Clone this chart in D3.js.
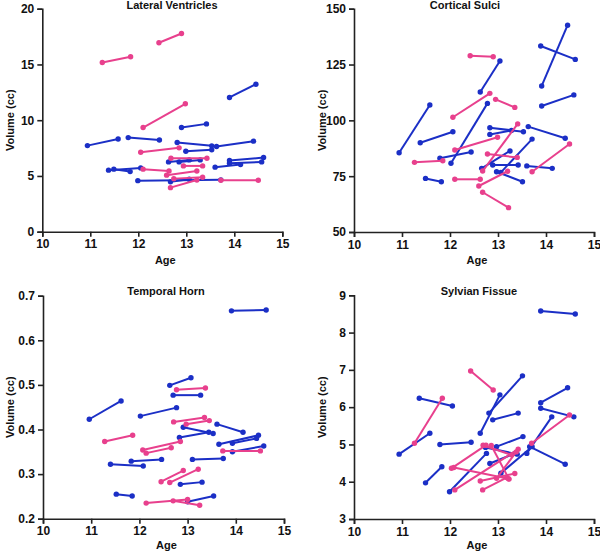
<!DOCTYPE html>
<html><head><meta charset="utf-8">
<script src="https://cdn.jsdelivr.net/npm/d3@7"></script>
<style>
body{margin:0;background:#fff}
svg{display:block}
text{font-family:Arial,"Liberation Sans",sans-serif;font-weight:bold;fill:#111}
</style>
</head><body>
<svg id="c" width="600" height="554"></svg>
<script>
// ---- data: each segment is [age1, volume1, age2, volume2] ----
const ageTicks = [10, 11, 12, 13, 14, 15];

const lvTicks = [0, 5, 10, 15, 20];
const lvBlue = [
  [13.90,12.04,14.45,13.23],[12.90,9.34,13.42,9.67],[10.94,7.72,11.58,8.32],[11.79,8.44,12.44,8.23],
  [12.81,8.00,13.53,7.70],[13.63,7.64,14.40,8.12],[12.99,7.22,13.53,7.34],[12.63,6.26,13.06,6.44],
  [12.85,6.26,13.29,6.44],[13.90,6.38,14.61,6.65],[13.90,6.14,14.57,6.26],[13.60,5.79,14.13,6.02],
  [11.38,5.52,12.05,5.72],[11.49,5.61,11.83,5.39],[11.99,4.58,13.72,4.65],[12.67,4.47,13.06,4.71]
];
const lvPink = [
  [11.25,15.18,11.84,15.69],[12.43,16.95,12.90,17.78],[12.10,9.34,12.98,11.47],[12.05,7.13,12.85,7.52],
  [12.68,6.59,13.43,6.59],[12.94,5.90,13.34,5.90],[12.10,5.61,12.64,5.45],[12.59,5.07,13.22,5.45],
  [12.74,4.76,13.34,4.89],[13.72,4.62,14.50,4.62],[12.67,3.95,13.22,4.64]
];

const csTicks = [50, 75, 100, 125, 150];
const csBlue = [
  [12.63,112.7,13.04,126.6],[13.89,133.3,14.61,127.3],[13.91,115.4,14.45,142.6],[13.91,106.4,14.58,111.4],
  [10.94,85.5,11.58,106.9],[11.38,90.0,12.06,94.9],[12.02,80.8,12.78,107.6],[12.83,96.7,13.53,94.9],
  [12.83,93.7,13.28,95.5],[13.63,97.2,14.40,92.0],[11.79,83.0,12.44,85.8],[12.66,78.5,13.25,86.3],
  [12.89,80.0,13.42,80.0],[13.60,79.6,14.13,78.5],[12.97,77.0,13.51,72.5],[13.06,76.7,13.71,91.6],
  [11.49,74.0,11.82,72.5]
];
const csPink = [
  [12.42,128.9,12.90,128.5],[12.06,101.4,12.83,112.1],[12.95,109.4,13.35,105.8],[12.10,86.7,12.99,92.4],
  [11.26,81.2,11.85,81.9],[12.68,77.3,13.41,98.4],[12.78,84.9,13.40,83.4],[13.71,77.0,14.49,89.4],
  [12.10,73.6,12.63,73.6],[12.60,70.6,13.20,77.2],[12.68,67.8,13.22,60.9]
];

const thTicks = [0.2, 0.3, 0.4, 0.5, 0.6, 0.7];
const thBlue = [
  [13.91,0.666,14.63,0.668],[12.63,0.499,13.07,0.516],[12.70,0.477,13.27,0.477],[10.96,0.423,11.62,0.464],
  [12.02,0.430,12.77,0.449],[12.91,0.405,13.53,0.391],[12.83,0.382,13.44,0.394],[13.61,0.412,14.15,0.394],
  [13.65,0.367,14.47,0.387],[13.93,0.369,14.43,0.380],[13.93,0.350,14.58,0.363],[11.83,0.329,12.46,0.333],
  [11.40,0.322,12.08,0.318],[13.10,0.333,13.74,0.335],[12.85,0.277,13.30,0.282],[11.52,0.255,11.85,0.251],
  [13.00,0.238,13.54,0.251]
];
const thPink = [
  [12.77,0.489,13.37,0.493],[12.71,0.417,13.35,0.427],[12.97,0.412,13.45,0.420],[13.73,0.352,14.51,0.352],
  [11.28,0.373,11.86,0.387],[12.07,0.354,12.85,0.373],[12.14,0.347,12.66,0.359],[12.45,0.283,12.91,0.308],
  [12.63,0.281,13.22,0.311],[12.14,0.235,13.00,0.243],[12.70,0.240,13.25,0.230]
];

const sfTicks = [3, 4, 5, 6, 7, 8, 9];
const sfBlue = [
  [13.89,8.58,14.61,8.50],[11.36,6.24,12.05,6.03],[12.81,5.84,13.51,6.84],[12.63,5.30,13.04,6.33],
  [13.89,6.12,14.45,6.52],[13.89,5.97,14.58,5.74],[10.94,4.74,11.58,5.30],[12.89,5.66,13.42,5.84],
  [11.79,5.00,12.44,5.06],[12.97,4.94,13.52,5.21],[12.74,4.92,13.40,4.74],[12.83,4.49,13.35,4.76],
  [11.99,3.73,12.76,4.76],[13.06,4.23,13.71,4.94],[13.60,4.76,14.12,5.74],[13.66,4.94,14.40,4.47],
  [11.49,3.97,11.83,4.40]
];
const sfPink = [
  [12.43,6.97,12.90,6.46],[11.26,5.03,11.84,6.24],[13.70,5.03,14.49,5.79],[12.03,4.36,12.75,4.98],
  [12.08,4.38,13.22,4.08],[12.10,3.78,13.42,4.87],[12.63,4.02,13.35,4.22],[12.68,3.78,13.18,4.11],
  [12.86,4.97,13.23,4.07],[12.69,4.98,13.28,4.72],[12.97,4.09,13.38,4.80]
];

// ---- layout / style ----
const BLUE = "#1b2fc6", PINK = "#e8408d";
const panels = [
  {title:"Lateral Ventricles", blue:lvBlue, pink:lvPink, ticks:lvTicks, fmt:d3.format("d"),
   x0:42.3, x1:282.3, yb:231.7, yt:8.7, tx:172, ty:9, lx:14, ax:264},
  {title:"Cortical Sulci", blue:csBlue, pink:csPink, ticks:csTicks, fmt:d3.format("d"),
   x0:354, x1:594, yb:232, yt:8.7, tx:465, ty:9, lx:326, ax:264},
  {title:"Temporal Horn", blue:thBlue, pink:thPink, ticks:thTicks, fmt:d3.format(".1f"),
   x0:43, x1:284, yb:518.7, yt:295.7, tx:166, ty:295, lx:14, ax:549},
  {title:"Sylvian Fissue", blue:sfBlue, pink:sfPink, ticks:sfTicks, fmt:d3.format("d"),
   x0:354, x1:594, yb:519, yt:295.3, tx:479, ty:295, lx:326, ax:549}
];

const svg = d3.select("#c");

panels.forEach(p => {
  const x = d3.scaleLinear().domain([10, 15]).range([p.x0, p.x1]);
  const y = d3.scaleLinear().domain([p.ticks[0], p.ticks[p.ticks.length-1]]).range([p.yb, p.yt]);
  const g = svg.append("g");

  const xa = g.append("g").attr("transform", `translate(0,${p.yb})`)
    .call(d3.axisBottom(x).tickValues(ageTicks).tickSize(5).tickPadding(3).tickFormat(d3.format("d")));
  const ya = g.append("g").attr("transform", `translate(${p.x0},0)`)
    .call(d3.axisLeft(y).tickValues(p.ticks).tickSize(5).tickPadding(3).tickFormat(p.fmt));
  [xa, ya].forEach(a => {
    a.select(".domain").attr("stroke", "#222").attr("stroke-width", 1.6);
    a.selectAll(".tick line").attr("stroke", "#222").attr("stroke-width", 1.6);
    a.selectAll(".tick text").attr("font-size", 12).attr("font-weight", "bold")
      .attr("font-family", "Arial, 'Liberation Sans', sans-serif").attr("fill", "#111");
  });

  g.append("text").attr("x", p.tx).attr("y", p.ty).attr("text-anchor", "middle")
    .attr("font-size", 11).text(p.title);
  g.append("text").attr("x", (p.x0 + p.x1) / 2 + 3).attr("y", p.ax).attr("text-anchor", "middle")
    .attr("font-size", 11).text("Age");
  g.append("text").attr("transform", `translate(${p.lx},${(p.yb + p.yt) / 2}) rotate(-90)`)
    .attr("text-anchor", "middle").attr("font-size", 11).text("Volume (cc)");

  const series = [{data:p.blue, color:BLUE}, {data:p.pink, color:PINK}];
  series.forEach(s => {
    const sg = g.append("g");
    sg.selectAll("line.seg").data(s.data).join("line").attr("class", "seg")
      .attr("x1", d => x(d[0])).attr("y1", d => y(d[1]))
      .attr("x2", d => x(d[2])).attr("y2", d => y(d[3]))
      .attr("stroke", s.color).attr("stroke-width", 2);
    const pts = s.data.flatMap(d => [[d[0], d[1]], [d[2], d[3]]]);
    sg.selectAll("circle").data(pts).join("circle")
      .attr("cx", d => x(d[0])).attr("cy", d => y(d[1])).attr("r", 2.7)
      .attr("fill", s.color);
  });
});
</script>
</body></html>
